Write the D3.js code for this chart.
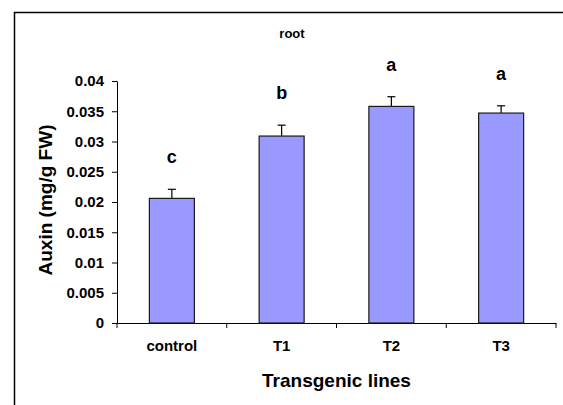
<!DOCTYPE html>
<html>
<head>
<meta charset="utf-8">
<script src="https://cdn.jsdelivr.net/npm/d3@7"></script>
<style>
  body { margin: 0; background: #fff; }
  svg text { font-family: Arial, "Liberation Sans", sans-serif; font-weight: bold; fill: #000; }
</style>
</head>
<body>
<div id="chart"></div>
<script>
// data
const lines = ['control', 'T1', 'T2', 'T3'];
const auxin = [0.0206, 0.0309, 0.0358, 0.0347];
const auxinErr = [0.0015, 0.0018, 0.0016, 0.0012];
const groups = ['c', 'b', 'a', 'a'];
const yTicks = [0, 0.005, 0.01, 0.015, 0.02, 0.025, 0.03, 0.035, 0.04];

const width = 563, height = 405;
const margin = {left: 117, right: 7, top: 81, bottom: 82};
const plotW = width - margin.left - margin.right;
const plotH = height - margin.top - margin.bottom;

const svg = d3.select('#chart')
    .append('svg')
    .attr('width', width)
    .attr('height', height);

// outer frame (runs off the right and bottom edge)
svg.append('rect')
    .attr('x', 14.5).attr('y', 12.5)
    .attr('width', 600).attr('height', 450)
    .attr('fill', 'none')
    .attr('stroke', '#000')
    .attr('stroke-width', 1.5);

const g = svg.append('g')
    .attr('transform', `translate(${margin.left}, ${margin.top})`);

// scales
const xScale = d3.scaleBand().domain(lines).range([0, plotW]).padding(0);
const yScale = d3.scaleLinear().domain([0, 0.04]).range([plotH, 0]);
const barW = xScale.bandwidth() * 0.41;

// axes
const yAxis = d3.axisLeft(yScale).tickValues(yTicks).tickSize(5).tickSizeOuter(0)
    .tickFormat(d => d3.format('')(+d.toFixed(3)));
const yAxisG = g.append('g').attr('class', 'axis y-axis').call(yAxis);
yAxisG.selectAll('text').attr('x', -13).style('font-size', '15px');

const xAxis = d3.axisBottom(xScale).tickSize(0).tickSizeOuter(0);
const xAxisG = g.append('g').attr('class', 'axis x-axis')
    .attr('transform', `translate(0, ${plotH})`).call(xAxis);
xAxisG.selectAll('text').attr('dy', 0).attr('y', 28).style('font-size', '15px');
// x ticks sit on the category boundaries
xAxisG.selectAll('.bound')
    .data(lines.concat(['end']))
    .join('line')
    .attr('class', 'bound')
    .attr('x1', (d, i) => i * xScale.step()).attr('x2', (d, i) => i * xScale.step())
    .attr('y1', 0).attr('y2', 5)
    .attr('stroke', '#000');
g.selectAll('.axis path').attr('stroke', '#000');
g.selectAll('.axis .tick line').attr('stroke', '#000');

// bars
const bar = g.selectAll('.bar')
    .data(lines)
    .join('g')
    .attr('class', 'bar');
bar.append('line')
    .attr('x1', d => xScale(d) + xScale.bandwidth() / 2)
    .attr('x2', d => xScale(d) + xScale.bandwidth() / 2)
    .attr('y1', (d, i) => yScale(auxin[i]))
    .attr('y2', (d, i) => yScale(auxin[i] + auxinErr[i]))
    .attr('stroke', '#000').attr('stroke-width', 1.2);
bar.append('line')
    .attr('x1', d => xScale(d) + xScale.bandwidth() / 2 - 4)
    .attr('x2', d => xScale(d) + xScale.bandwidth() / 2 + 4)
    .attr('y1', (d, i) => yScale(auxin[i] + auxinErr[i]))
    .attr('y2', (d, i) => yScale(auxin[i] + auxinErr[i]))
    .attr('stroke', '#000').attr('stroke-width', 1.2);
bar.append('rect')
    .attr('x', d => xScale(d) + (xScale.bandwidth() - barW) / 2)
    .attr('y', (d, i) => yScale(auxin[i]))
    .attr('width', barW)
    .attr('height', (d, i) => plotH - yScale(auxin[i]))
    .attr('fill', '#9999ff')
    .attr('stroke', '#1a1a1a')
    .attr('stroke-width', 1.2);
bar.append('text')
    .attr('x', d => xScale(d) + xScale.bandwidth() / 2)
    .attr('y', (d, i) => yScale(auxin[i] + auxinErr[i]) - 26)
    .attr('text-anchor', 'middle')
    .style('font-size', '18px')
    .text((d, i) => groups[i]);

// titles
svg.append('text')
    .attr('x', 292).attr('y', 38)
    .attr('text-anchor', 'middle')
    .style('font-size', '13px')
    .text('root');
svg.append('text')
    .attr('x', margin.left + plotW / 2).attr('y', 387)
    .attr('text-anchor', 'middle')
    .style('font-size', '19px')
    .text('Transgenic lines');
svg.append('text')
    .attr('transform', `translate(52, ${margin.top + plotH / 2 - 2}) rotate(-90)`)
    .attr('text-anchor', 'middle')
    .style('font-size', '19px')
    .text('Auxin (mg/g FW)');
</script>
</body>
</html>
